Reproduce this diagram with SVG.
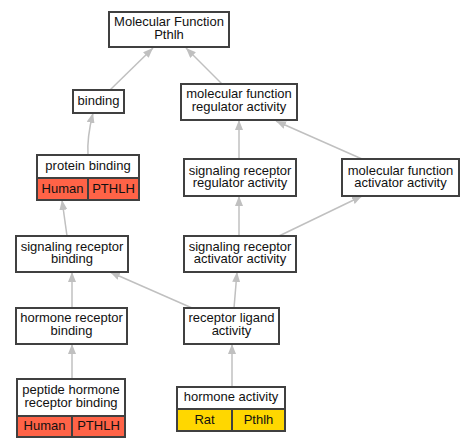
<svg xmlns="http://www.w3.org/2000/svg" width="473" height="448" viewBox="0 0 473 448">
<style>
.n{fill:#fff;stroke:#404040;stroke-width:2}
.r{fill:#ff6347;stroke:#404040;stroke-width:2}
.y{fill:#ffd700;stroke:#404040;stroke-width:2}
text{font-family:"Liberation Sans",Arial,sans-serif;font-size:13px;fill:#111;text-anchor:middle}
.e path{fill:none;stroke:#c0c0c0;stroke-width:1.5}
</style>
<defs>
<marker id="a" viewBox="0 0 10 8" refX="10" refY="4" markerWidth="10" markerHeight="8" markerUnits="userSpaceOnUse" orient="auto">
<path d="M0,0L10,4L0,8z" fill="#c0c0c0"/>
</marker>
</defs>
<rect width="473" height="448" fill="#fff"/>
<g class="e">
<path d="M110,90L153,48" marker-end="url(#a)"/>
<path d="M222,84L186,48" marker-end="url(#a)"/>
<path d="M88,155C87,140 90,125 93,113" marker-end="url(#a)"/>
<path d="M239,159L239,120" marker-end="url(#a)"/>
<path d="M362,159L276,121" marker-end="url(#a)"/>
<path d="M67,236L62,200" marker-end="url(#a)"/>
<path d="M239,236L239,196" marker-end="url(#a)"/>
<path d="M279,236L362,196" marker-end="url(#a)"/>
<path d="M72,308L72,272" marker-end="url(#a)"/>
<path d="M192,308L110,272" marker-end="url(#a)"/>
<path d="M234,308L237,272" marker-end="url(#a)"/>
<path d="M72,379L72,344" marker-end="url(#a)"/>
<path d="M232,387L232,344" marker-end="url(#a)"/>
</g>
<g id="mf"><rect class="n" x="109" y="12" width="120" height="35"/><text x="169" y="26">Molecular Function</text><text x="169" y="39">Pthlh</text></g>
<g id="binding"><rect class="n" x="73" y="90" width="51" height="23"/><text x="98.5" y="105">binding</text></g>
<g id="mfreg"><rect class="n" x="181" y="84" width="116" height="36"/><text x="239" y="97.5">molecular function</text><text x="239" y="111">regulator activity</text></g>
<g id="pb"><rect class="n" x="37" y="155" width="102" height="23"/><rect class="r" x="37" y="178" width="51" height="22"/><rect class="r" x="88" y="178" width="51" height="22"/><text x="88" y="170">protein binding</text><text x="62.5" y="192.5">Human</text><text x="113.5" y="192.5">PTHLH</text></g>
<g id="srreg"><rect class="n" x="184" y="159" width="112" height="37"/><text x="240" y="174.5">signaling receptor</text><text x="240" y="187">regulator activity</text></g>
<g id="mfact"><rect class="n" x="342" y="159" width="117" height="37"/><text x="400.5" y="174.5">molecular function</text><text x="400.5" y="187">activator activity</text></g>
<g id="srb"><rect class="n" x="16" y="236" width="112" height="36"/><text x="72" y="250.5">signaling receptor</text><text x="72" y="263">binding</text></g>
<g id="sract"><rect class="n" x="184" y="236" width="112" height="36"/><text x="240" y="250.5">signaling receptor</text><text x="240" y="263">activator activity</text></g>
<g id="hrb"><rect class="n" x="16" y="308" width="111" height="36"/><text x="71.5" y="322">hormone receptor</text><text x="71.5" y="335">binding</text></g>
<g id="rla"><rect class="n" x="184" y="308" width="95" height="36"/><text x="231.5" y="322">receptor ligand</text><text x="231.5" y="335">activity</text></g>
<g id="phrb"><rect class="n" x="17" y="379" width="108" height="37"/><rect class="r" x="17" y="416" width="55" height="21"/><rect class="r" x="72" y="416" width="53" height="21"/><text x="71" y="393.5">peptide hormone</text><text x="71" y="407">receptor binding</text><text x="44.5" y="430">Human</text><text x="98.5" y="430">PTHLH</text></g>
<g id="ha"><rect class="n" x="177" y="387" width="108" height="22"/><rect class="y" x="177" y="409" width="55" height="22"/><rect class="y" x="232" y="409" width="53" height="22"/><text x="231" y="401">hormone activity</text><text x="204.5" y="423.5">Rat</text><text x="258.5" y="423.5">Pthlh</text></g>
</svg>
